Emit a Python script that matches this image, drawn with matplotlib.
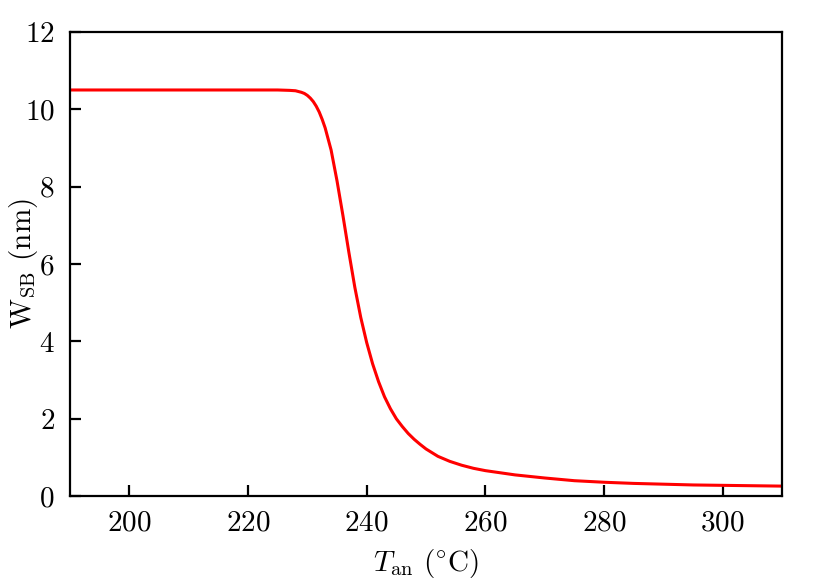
import matplotlib
matplotlib.use("Agg")
import matplotlib.pyplot as plt

plt.rcParams['font.family'] = 'serif'
plt.rcParams['font.serif'] = ['cmr10']
plt.rcParams['mathtext.fontset'] = 'cm'
plt.rcParams['axes.formatter.use_mathtext'] = True

# annealing temperature (C) and SB width (nm)
t_an = [190, 200, 210, 220, 225, 227, 228, 228.5, 229, 229.5, 230, 230.5, 231,
        231.5, 232, 232.5, 233, 234, 235, 236, 237, 238, 239, 240, 241, 242,
        243, 244, 245, 246, 247, 248, 249, 250, 252, 254, 256, 258, 260, 265,
        270, 275, 280, 285, 290, 295, 300, 305, 310]
w_sb = [10.5, 10.5, 10.5, 10.5, 10.5, 10.49, 10.48, 10.46, 10.44, 10.41, 10.36,
        10.29, 10.2, 10.08, 9.93, 9.74, 9.52, 8.95, 8.15, 7.25, 6.3, 5.4, 4.62,
        3.97, 3.42, 2.96, 2.57, 2.26, 2.0, 1.8, 1.62, 1.47, 1.34, 1.22, 1.03,
        0.9, 0.8, 0.72, 0.66, 0.55, 0.47, 0.4, 0.36, 0.33, 0.31, 0.29, 0.28,
        0.27, 0.26]

xticks = [200, 220, 240, 260, 280, 300]
yticks = [0, 2, 4, 6, 8, 10, 12]

fig = plt.figure(figsize=(4.15, 2.905), dpi=200)
ax = fig.add_axes([0.0843, 0.146, 0.858, 0.799])
ax.plot(t_an, w_sb, color='red', lw=1.1)
ax.set_xlim(190, 310)
ax.set_ylim(0, 12)
ax.set_xticks(xticks)
ax.set_yticks(yticks)
ax.tick_params(direction='in', length=4, width=0.8, labelsize=10.5,
               top=False, right=False)
ax.tick_params(axis='y', pad=5.5)
ax.tick_params(axis='x', pad=5)
for s in ax.spines.values():
    s.set_linewidth(0.8)
ax.set_xlabel(r'$T_{\rm an}$ ($^{\circ}$C)', fontsize=10.5)
ax.set_ylabel(r'W$_{\rm SB}$ (nm)', fontsize=10.5)
ax.yaxis.set_label_coords(-0.042, 0.5)
ax.xaxis.set_label_coords(0.5, -0.11)

fig.savefig('out.png', dpi=200)
